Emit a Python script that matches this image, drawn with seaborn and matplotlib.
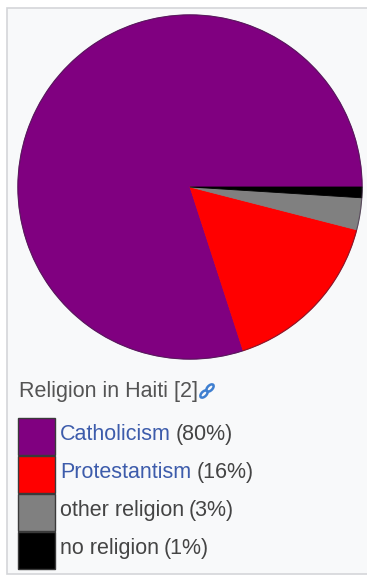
import matplotlib
matplotlib.use("Agg")
import matplotlib.pyplot as plt
import seaborn as sns
from matplotlib.patches import Rectangle, Ellipse, Circle

# Religion in Haiti, share of population (%)
religions = ["Catholicism", "Protestantism", "other religion", "no religion"]
shares = [80, 16, 3, 1]
colors = ["#800080", "#ff0000", "#808080", "#000000"]
linked = [True, True, False, False]
title = "Religion in Haiti [2]"

sns.set_theme(style="white")
plt.rcParams["font.family"] = ["Liberation Sans", "DejaVu Sans"]

W, H = 367, 580
FS = 15.5
fig = plt.figure(figsize=(W / 100, H / 100), dpi=100)
fig.patch.set_facecolor("white")

# Background overlay in pixel coordinates (y down)
bg = fig.add_axes([0, 0, 1, 1], zorder=0)
bg.set_xlim(0, W)
bg.set_ylim(H, 0)
bg.axis("off")
bg.add_patch(Rectangle((7, 8), W, 566, facecolor="#f8f9fa",
                       edgecolor="#d4d6d9", lw=1.2))

# Pie chart
cx, cy, r = 190, 187, 173
pie_ax = fig.add_axes([(cx - r) / W, (H - cy - r) / H, 2 * r / W, 2 * r / H],
                      zorder=1)
wedges, _ = pie_ax.pie(shares, colors=colors, startangle=0, counterclock=True,
                       wedgeprops=dict(linewidth=0.6))
for w, c in zip(wedges, colors):
    w.set_edgecolor(c)
pie_ax.add_patch(Circle((0, 0), 1.0, facecolor="none", edgecolor="#3a2040",
                        lw=0.8, alpha=0.6))
pie_ax.set_xlim(-1.005, 1.005)
pie_ax.set_ylim(-1.005, 1.005)
pie_ax.set_aspect("equal")
pie_ax.axis("off")

# Legend
fg = fig.add_axes([0, 0, 1, 1], zorder=2)
fg.set_xlim(0, W)
fg.set_ylim(H, 0)
fg.axis("off")
fg.patch.set_alpha(0)

fg.text(19, 391, title, fontsize=FS, color="#545454", va="center", ha="left")
# link icon
for (ex, ey) in [(204, 394), (210, 388)]:
    fg.add_patch(Ellipse((ex, ey), 9, 5, angle=-45, facecolor="none",
                         edgecolor="#3f7fd0", lw=1.8))

box_x, box_w = 18, 37
tops = [418, 456, 494, 532]
box_h = 37
names = []
for lab, col, link, top in zip(religions, colors, linked, tops):
    fg.add_patch(Rectangle((box_x, top), box_w, box_h, facecolor=col,
                           edgecolor="#3a3a3a", lw=1.0))
    names.append(fg.text(60, top + box_h / 2 - 2, lab, fontsize=FS,
                         color="#3d5cab" if link else "#444444",
                         va="center", ha="left"))

# append percentages after the name
fig.canvas.draw()
renderer = fig.canvas.get_renderer()
for t, val in zip(names, shares):
    bb = t.get_window_extent(renderer)
    fg.text(bb.x1 + 5, t.get_position()[1], f"({val}%)", fontsize=FS,
            color="#444444", va="center", ha="left")

fig.savefig("out.png", dpi=100)
